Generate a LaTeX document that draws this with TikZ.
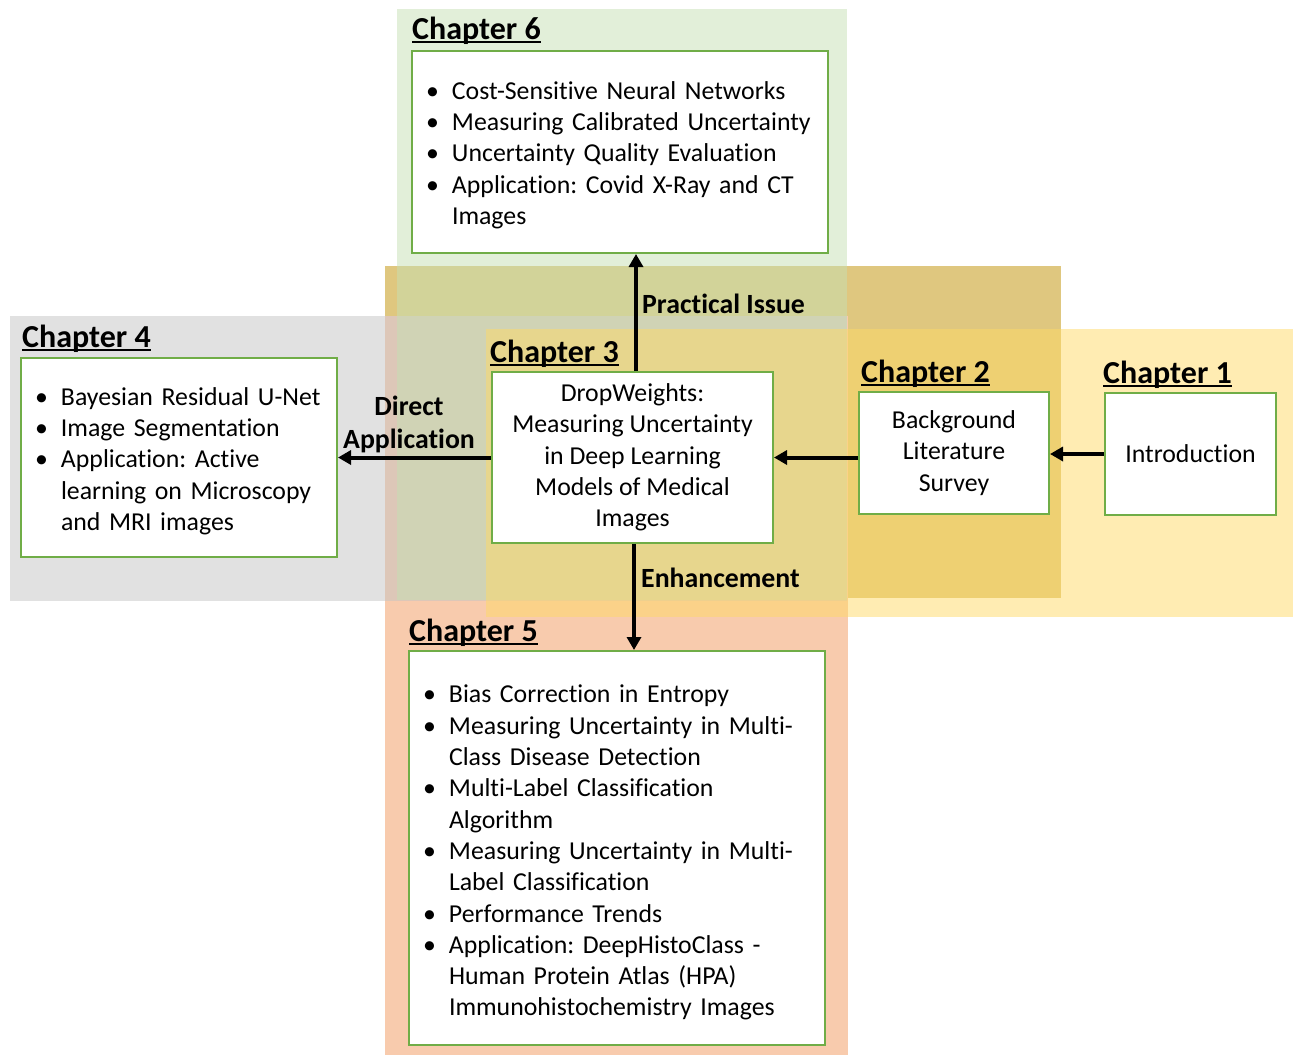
\documentclass[tikz,border=0pt]{standalone}
\usepackage{fontspec}
\setmainfont{Carlito}[Ligatures=NoCommon]
\usetikzlibrary{arrows.meta, positioning, calc}
\definecolor{boxgreen}{HTML}{70AD47}
\definecolor{chsalmon}{HTML}{F8CBAD}
\definecolor{chgray}{HTML}{C4C4C4}
\definecolor{chgreen}{HTML}{C5E0B4}
\definecolor{chgold}{HTML}{BF9000}
\definecolor{chyellow}{HTML}{FFD966}

\frenchspacing
\newcommand{\bodyfont}{\fontsize{25.8pt}{31.3pt}\selectfont}
\newcommand{\chapfont}{\fontsize{32pt}{36pt}\selectfont\bfseries}
\newcommand{\edgefont}{\fontsize{27.8pt}{33pt}\selectfont\bfseries}
\newcommand{\chapul}[1]{\setbox0\hbox{#1}\rlap{\rule[-3.5pt]{\wd0}{2pt}}\box0}
\newcommand{\bitem}[1]{\par\noindent\hangindent=26pt\hangafter=1\makebox[26pt][l]{\textbullet}#1\par}

\begin{document}
\begin{tikzpicture}[
  x=1pt, y=-1pt,
  chapbox/.style={draw=boxgreen, line width=2pt, fill=white, inner sep=0pt, font=\bodyfont, align=center},
  listbox/.style={chapbox, align=left, inner xsep=14pt, inner ysep=0pt},
  chaptitle/.style={font=\chapfont, anchor=base west, inner sep=0pt},
  edgelabel/.style={font=\edgefont, inner sep=0pt},
  flow/.style={line width=4pt, -{Triangle[length=13pt,width=14pt]}},
]
\useasboundingbox (0,0) rectangle (1298,1055);

% Chapter regions
\fill[chgold, fill opacity=0.5] (385,266) rectangle (1061,598);
\fill[chsalmon] (385,316) rectangle (848,1055);
\fill[chgray, fill opacity=0.5] (10,316) rectangle (847,601);
\fill[chgreen, fill opacity=0.5] (397,9) rectangle (847,600);
\fill[chyellow, fill opacity=0.5] (486,329) rectangle (1293,617);

% Boxes
\node[chapbox, minimum width=171pt, minimum height=122pt] (ch1) at (1190.5,454) {Introduction};
\node[chapbox, minimum width=190pt, minimum height=122pt] (ch2) at (954,453) {Background\\Literature\\Survey};
\node[chapbox, minimum width=281pt, minimum height=171pt] (ch3) at (632.5,457.5)
  {DropWeights:\\Measuring Uncertainty\\in Deep Learning\\Models of Medical\\Images};
\node[listbox, text width=288pt, minimum height=199pt] (ch4) at (179,457.5) {%
  \bitem{Bayesian Residual U-Net}
  \bitem{Image Segmentation}
  \bitem{Application: Active\newline learning on Microscopy\newline and MRI images}
  \kern6pt};
\node[listbox, text width=388pt, minimum height=394pt] (ch5) at (617,848) {%
  \bitem{Bias Correction in Entropy}
  \bitem{Measuring Uncertainty in Multi-\newline Class Disease Detection}
  \bitem{Multi-Label Classification\newline Algorithm}
  \bitem{Measuring Uncertainty in Multi-\newline Label Classification}
  \bitem{Performance Trends}
  \bitem{Application: DeepHistoClass -\newline Human Protein Atlas (HPA)\newline Immunohistochemistry Images}
  \kern4pt};
\node[listbox, text width=388pt, minimum height=202pt] (ch6) at (620,152) {%
  \bitem{Cost-Sensitive Neural Networks}
  \bitem{Measuring Calibrated Uncertainty}
  \bitem{Uncertainty Quality Evaluation}
  \bitem{Application: Covid X-Ray and CT\newline Images}
  \kern7pt};

% Chapter titles
\node[chaptitle] (t1) at (1103,383) {\chapul{Chapter 1}};
\node[chaptitle] (t2) at (861,382) {\chapul{Chapter 2}};
\node[chaptitle] (t3) at (490,362) {\chapul{Chapter 3}};
\node[chaptitle] (t4) at (22,347) {\chapul{Chapter 4}};
\node[chaptitle] (t5) at (409,641) {\chapul{Chapter 5}};
\node[chaptitle] (t6) at (412,39) {\chapul{Chapter 6}};

% Flow
\draw[flow] (ch1.west) -- (ch2.east |- ch1.west);
\draw[flow] (ch2.west |- ch3.east) -- (ch3.east);
\draw[flow] (ch3.west) -- (ch4.east);
\draw[flow] ([xshift=3.5pt]ch3.north) -- ([xshift=3.5pt]ch3.north |- ch6.south);
\draw[flow] ([xshift=1.5pt]ch3.south) -- ([xshift=1.5pt]ch3.south |- ch5.north);

% Flow labels
\node[edgelabel, anchor=base west] (practical) at (642,313) {Practical Issue};
\node[edgelabel, anchor=base west] (enhance) at (641,587) {Enhancement};
\node[edgelabel, anchor=south, align=center] (direct) at (409,453) {Direct\\Application};
\end{tikzpicture}
\end{document}
